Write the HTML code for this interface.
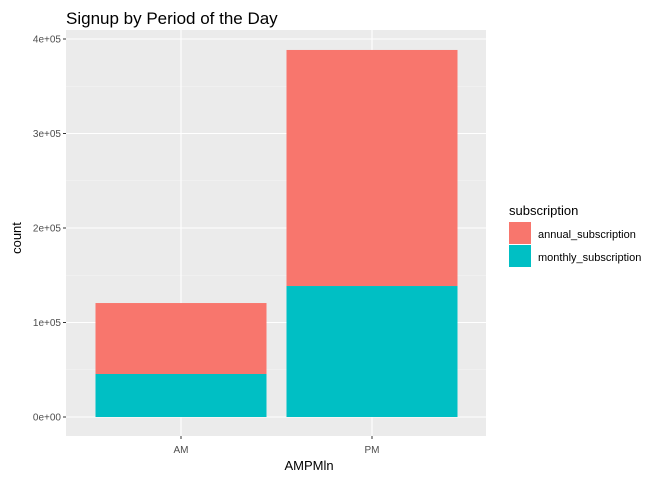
<!DOCTYPE html>
<html><head><meta charset="utf-8"><style>
body{margin:0;background:#fff;font-family:"Liberation Sans",Arial,sans-serif;}
</style></head><body>
<svg width="672" height="480" xmlns="http://www.w3.org/2000/svg" font-family="Liberation Sans, Arial, sans-serif">
<text x="66" y="24" font-size="17" fill="#000">Signup by Period of the Day</text>
<rect x="66" y="30" width="420" height="406" fill="#ebebeb"/>
<g id="grid"></g>
<g id="bars"></g>
<g id="axes"></g>
<text x="309" y="470" font-size="13" text-anchor="middle">AMPMln</text>
<text transform="translate(21,238) rotate(-90)" font-size="13" text-anchor="middle">count</text>
<text x="509" y="215" font-size="13">subscription</text>
<rect x="509" y="222" width="22" height="22" fill="#f8766d"/>
<text x="538" y="238" font-size="11" fill="#000">annual_subscription</text>
<rect x="509" y="245" width="22" height="22" fill="#00bfc4"/>
<text x="538" y="261" font-size="11" fill="#000">monthly_subscription</text>
</svg>
<script>
const categories=["AM","PM"];
const monthly=[45500,138600];
const annual=[75100,249800];
const yTicks=[0,100000,200000,300000,400000];
const yTickLabels=["0e+00","1e+05","2e+05","3e+05","4e+05"];
const ns="http://www.w3.org/2000/svg";
const y=v=>417-v*94.5/100000;
const x=i=>181+i*191;
const bw=171;
function mk(tag,attrs,parent){const e=document.createElementNS(ns,tag);for(const k in attrs)e.setAttribute(k,attrs[k]);document.getElementById(parent).appendChild(e);return e;}
for(let i=0;i<yTicks.length;i++){
 if(i<yTicks.length-1){const m=(yTicks[i]+yTicks[i+1])/2;
  const g=mk("line",{x1:66,x2:486,y1:y(m),y2:y(m),stroke:"#f5f5f5","stroke-width":0.6},"grid");
  
  }
 const l=mk("line",{x1:66,x2:486,y1:y(yTicks[i]),y2:y(yTicks[i]),stroke:"#fff","stroke-width":1.1},"grid");
 
 
 const t=mk("text",{x:61,y:y(yTicks[i])+3.5,"font-size":10,"text-anchor":"end",fill:"#4d4d4d"},"axes");
 t.textContent=yTickLabels[i];
 
 
 const tk=mk("line",{x1:63,x2:66,y1:y(yTicks[i]),y2:y(yTicks[i]),stroke:"#333"},"axes");
 
 
}
categories.forEach((c,i)=>{
 const v=mk("line",{x1:x(i),x2:x(i),y1:30,y2:436,stroke:"#fff","stroke-width":1.1},"grid");
 
 
 const a=mk("rect",{x:x(i)-bw/2,width:bw,y:y(monthly[i]+annual[i]),height:y(monthly[i])-y(monthly[i]+annual[i]),fill:"#f8766d"},"bars");
 
 
 const m=mk("rect",{x:x(i)-bw/2,width:bw,y:y(monthly[i]),height:y(0)-y(monthly[i]),fill:"#00bfc4"},"bars");
 
 
 const tk=mk("line",{x1:x(i),x2:x(i),y1:436,y2:439,stroke:"#333"},"axes");
 
 
 const t=mk("text",{x:x(i),y:453,"font-size":10,"text-anchor":"middle",fill:"#4d4d4d"},"axes");
 t.textContent=c;
 
 
});
</script>
</body></html>
